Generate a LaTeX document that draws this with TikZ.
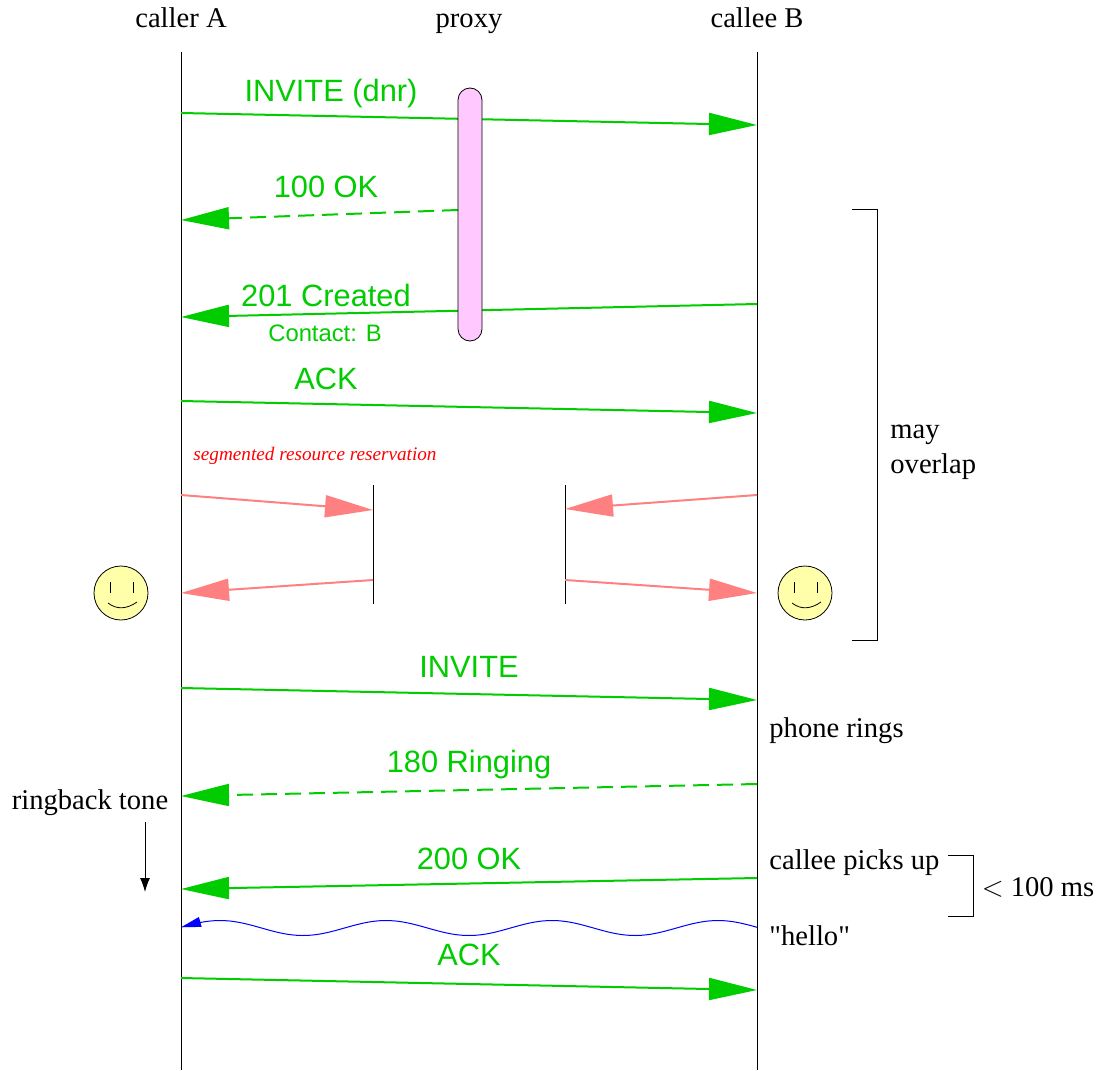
\documentclass[tikz,border=0pt]{standalone}
\usepackage{fontspec}
\setmainfont{Liberation Serif}
\setsansfont{Liberation Sans}
\usetikzlibrary{arrows.meta}

\definecolor{msggreen}{RGB}{0,204,0}
\definecolor{resvpink}{RGB}{255,128,128}
\definecolor{proxypink}{RGB}{255,200,255}
\definecolor{faceyellow}{RGB}{255,255,170}

\newcommand{\dquote}{\XeTeXglyph\XeTeXcharglyph"22\relax}

\tikzset{
    head/.style={font=\fontsize{14.3}{17}\selectfont, anchor=base},
    note/.style={font=\fontsize{14.3}{17.5}\selectfont, anchor=west, inner sep=0pt},
    msglabel/.style={msggreen, font=\sffamily\fontsize{15.4}{18}\selectfont, anchor=base},
    msg/.style={msggreen, line width=1pt, -{Triangle[length=24pt, width=11pt]}},
    prov/.style={msg, dash pattern=on 8pt off 4pt},
    resv/.style={resvpink, line width=1pt, -{Triangle[length=24pt, width=11pt]}},
    smiley/.pic={
        \draw[fill=faceyellow] (0,0) circle[radius=27];
        \draw (-11,-11) -- (-11,0);
        \draw (12,-11) -- (12,0);
        \draw (-13,10) .. controls (-4,17) and (6,16) .. (16,9);
    }
}

\begin{document}
\begin{tikzpicture}[x=0.5pt, y=-0.5pt]
    \useasboundingbox (0,0) rectangle (1096,1070);

    % heads and lifelines
    \node[head] (callerA) at (181,28) {caller A};
    \node[head] (proxy) at (469,28) {proxy};
    \node[head] (calleeB) at (757,28) {callee B};
    \coordinate (A0) at (181,52);
    \coordinate (A9) at (181,1070);
    \coordinate (B0) at (757,52);
    \coordinate (B9) at (757,1070);
    \draw[line width=0.5pt] (A0) -- (A9);
    \draw[line width=0.5pt] (B0) -- (B9);

    % message ends
    \coordinate (A1) at (181,113);  \coordinate (B1) at (757,125);
    \coordinate (P2) at (458,210);  \coordinate (A2) at (181,220);
    \coordinate (B3) at (757,304);  \coordinate (A3) at (181,317);
    \coordinate (A4) at (181,401);  \coordinate (B4) at (757,413);
    \coordinate (A6) at (181,688);  \coordinate (B6) at (757,700);
    \coordinate (B7) at (757,784);  \coordinate (A7) at (181,796);
    \coordinate (B8) at (757,878);  \coordinate (A8) at (181,889);
    \coordinate (A10) at (181,978); \coordinate (B10) at (757,990);

    % first exchange
    \draw[msg] (A1) -- (B1);
    \draw[prov] (P2) -- (A2);
    \draw[msg] (B3) -- (A3);
    \draw[msg] (A4) -- (B4);
    \node[msglabel] (invdnr) at (331,102) {INVITE (dnr)};
    \node[msglabel] (ok100) at (326,197) {100 OK};
    \node[msglabel] (created) at (326,306) {201 Created};
    \node[msglabel, font=\sffamily\fontsize{11.9}{14}\selectfont] (contact) at (325,341) {Contact: B};
    \node[msglabel] (ack1) at (326,389) {ACK};

    \node[draw, fill=proxypink, rounded corners=6pt, minimum width=12pt,
          minimum height=126.5pt, inner sep=0pt] (proxybar) at (470,214.5) {};

    % resource reservation
    \node[red, font=\itshape\fontsize{9.6}{11}\selectfont] (segres) at (315,456)
        {segmented resource reservation};
    \coordinate (S1) at (373,485); \coordinate (S2) at (373,604);
    \coordinate (T1) at (565,485); \coordinate (T2) at (565,604);
    \draw[line width=0.5pt] (S1) -- (S2);
    \draw[line width=0.5pt] (T1) -- (T2);
    \coordinate (A5) at (181,495); \coordinate (S5) at (373,510);
    \coordinate (B5) at (757,495); \coordinate (T5) at (565,509);
    \coordinate (S6) at (373,580); \coordinate (A55) at (181,593);
    \coordinate (T6) at (565,580); \coordinate (B55) at (757,593);
    \draw[resv] (A5) -- (S5);
    \draw[resv] (B5) -- (T5);
    \draw[resv] (S6) -- (A55);
    \draw[resv] (T6) -- (B55);
    \pic at (121,593) {smiley};
    \pic at (805,593) {smiley};

    % may overlap
    \coordinate (K1) at (852,209); \coordinate (K2) at (877,209);
    \coordinate (K3) at (877,640); \coordinate (K4) at (852,640);
    \draw[line width=0.5pt] (K1) -- (K2) -- (K3) -- (K4);
    \node[note, align=left] (overlap) at (890,452) {may\\overlap};

    % second exchange
    \draw[msg] (A6) -- (B6);
    \draw[prov] (B7) -- (A7);
    \draw[msg] (B8) -- (A8);
    \draw[msg] (A10) -- (B10);
    \node[msglabel] (inv2) at (469,677) {INVITE};
    \node[msglabel] (ringing) at (469,772) {180 Ringing};
    \node[msglabel] (ok200) at (469,869) {200 OK};
    \node[msglabel] (ack2) at (469,965) {ACK};

    \node[note] (rings) at (769,731) {phone rings};
    \node[note] (picks) at (769,863) {callee picks up};
    \node[note] (hello) at (769,936) {\dquote hello\dquote};
    \node[head, anchor=center] (ringback) at (90,803) {ringback tone};
    \coordinate (R1) at (145,822); \coordinate (R2) at (145,892);
    \draw[-{Latex[length=7pt, width=5pt]}, line width=0.5pt] (R1) -- (R2);

    % < 100 ms
    \coordinate (M1) at (948,855); \coordinate (M2) at (973,855);
    \coordinate (M3) at (973,916); \coordinate (M4) at (948,916);
    \draw[line width=0.5pt] (M1) -- (M2) -- (M3) -- (M4);
    \node[head, anchor=center] (delay) at (1038,887) {$<$ 100 ms};

    % voice
    \draw[blue, line width=0.5pt, -{Triangle[length=10pt, width=5pt]}]
        plot[domain=757:181, samples=120] (\x, {928 - 7.5*cos((\x-220)*2.1687)});
\end{tikzpicture}
\end{document}
